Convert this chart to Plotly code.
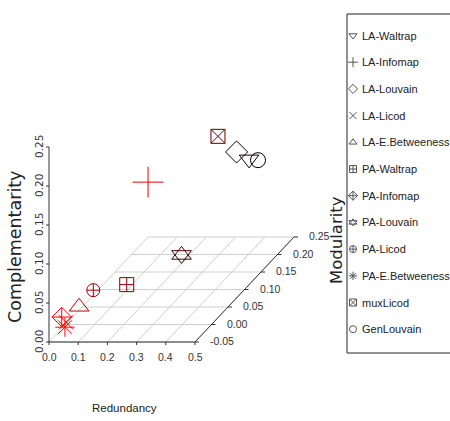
import plotly.graph_objects as go

# ---------------- data ----------------
methods = ["LA-Waltrap", "LA-Infomap", "LA-Louvain", "LA-Licod", "LA-E.Betweeness",
           "PA-Waltrap", "PA-Infomap", "PA-Louvain", "PA-Licod", "PA-E.Betweeness",
           "muxLicod", "GenLouvain"]
redundancy = [0.380, 0.294, 0.326, 0.030, 0.007, 0.091, 0.021, 0.203, 0.007, 0.032, 0.373, 0.388]
modularity = [0.220, -0.010, 0.230, -0.025, 0.035, 0.105, -0.030, 0.172, 0.078, -0.030, 0.132, 0.240]
complementarity = [0.113, 0.187, 0.118, 0.014, 0.007, 0.004, 0.023, 0.012, 0.009, 0.010, 0.182, 0.103]

x_ticks = [0.0, 0.1, 0.2, 0.3, 0.4, 0.5]
x_tick_labels = ["0.0", "0.1", "0.2", "0.3", "0.4", "0.5"]
y_ticks = [-0.05, 0.0, 0.05, 0.10, 0.15, 0.20, 0.25]
y_tick_labels = ["-0.05", "0.00", "0.05", "0.10", "0.15", "0.20", "0.25"]
z_ticks = [0.0, 0.05, 0.10, 0.15, 0.20, 0.25]
z_tick_labels = ["0.00", "0.05", "0.10", "0.15", "0.20", "0.25"]

# ---------------- styles ----------------
symbols = {
    "LA-Waltrap": ["triangle-down-open"],
    "LA-Infomap": ["cross-thin-open"],
    "LA-Louvain": ["diamond-open"],
    "LA-Licod": ["x-thin-open"],
    "LA-E.Betweeness": ["triangle-up-open"],
    "PA-Waltrap": ["square-cross-open"],
    "PA-Infomap": ["diamond-cross-open"],
    "PA-Louvain": ["triangle-up-open", "triangle-down-open"],
    "PA-Licod": ["circle-cross-open"],
    "PA-E.Betweeness": ["asterisk-open"],
    "muxLicod": ["square-x-open"],
    "GenLouvain": ["circle-open"],
}
sizes = {
    "triangle-down-open": 17, "triangle-up-open": 17, "cross-thin-open": 22,
    "diamond-open": 17, "x-thin-open": 14, "square-cross-open": 14,
    "diamond-cross-open": 15, "circle-cross-open": 13, "asterisk-open": 16,
    "square-x-open": 14, "circle-open": 15,
}

NARROW = "Liberation Sans, Arial, sans-serif"
WIDE = "DejaVu Sans, Verdana, sans-serif"

# oblique projection (scatterplot3d style) into page pixels
X_MIN, Y_MIN, Z_MIN = 0.0, -0.05, 0.0
ORIGIN = (49.0, 342.0)
X_SCALE = 292.0
Y_SCALE = (330.0, -350.0)
Z_SCALE = -780.0


def proj(x, y, z):
    px = ORIGIN[0] + (x - X_MIN) * X_SCALE + (y - Y_MIN) * Y_SCALE[0]
    py = ORIGIN[1] + (z - Z_MIN) * Z_SCALE + (y - Y_MIN) * Y_SCALE[1]
    return px, py


fig = go.Figure()

# floor grid
gx, gy = [], []
for yt in y_ticks:
    a = proj(x_ticks[0], yt, Z_MIN)
    b = proj(x_ticks[-1], yt, Z_MIN)
    gx += [a[0], b[0], None]
    gy += [a[1], b[1], None]
for xt in x_ticks:
    a = proj(xt, y_ticks[0], Z_MIN)
    b = proj(xt, y_ticks[-1], Z_MIN)
    gx += [a[0], b[0], None]
    gy += [a[1], b[1], None]
fig.add_trace(go.Scatter(x=gx, y=gy, mode="lines", line=dict(color="#cfcfcf", width=1),
                         hoverinfo="skip", showlegend=False))

# axes lines + ticks
ax, ay = [], []
o = proj(x_ticks[0], y_ticks[0], z_ticks[0])
e = proj(x_ticks[-1], y_ticks[0], z_ticks[0])
f = proj(x_ticks[-1], y_ticks[-1], z_ticks[0])
t = proj(x_ticks[0], y_ticks[0], z_ticks[-1])
ax += [o[0], e[0], f[0], None, o[0], t[0], None]
ay += [o[1], e[1], f[1], None, o[1], t[1], None]
for zt in z_ticks:
    p = proj(x_ticks[0], y_ticks[0], zt)
    ax += [p[0] - 3, p[0], None]
    ay += [p[1], p[1], None]
for xt in x_ticks:
    p = proj(xt, y_ticks[0], z_ticks[0])
    ax += [p[0], p[0], None]
    ay += [p[1], p[1] + 3, None]
for yt in y_ticks:
    p = proj(x_ticks[-1], yt, z_ticks[0])
    ax += [p[0], p[0] + 4, None]
    ay += [p[1], p[1], None]
fig.add_trace(go.Scatter(x=ax, y=ay, mode="lines", line=dict(color="#333333", width=1),
                         hoverinfo="skip", showlegend=False))

# points, coloured red -> black by modularity (highlight.3d)
ymax, ymin = max(modularity), min(modularity)
for m, xv, yv, zv in zip(methods, redundancy, modularity, complementarity):
    r = (ymax - yv) / (ymax - ymin)
    col = "rgb(%d,0,0)" % round(255 * r)
    px, py = proj(xv, yv, zv)
    for s in symbols[m]:
        fig.add_trace(go.Scatter(
            x=[px], y=[py], mode="markers", name=m, showlegend=False,
            marker=dict(symbol=s, size=sizes[s], color=col,
                        line=dict(color=col, width=1))))

# manual legend
LEG_X, LEG_Y0, LEG_DY = 353, 35.5, 26.7
fig.add_shape(type="rect", x0=347, x1=460, y0=14, y1=353,
              line=dict(color="#222222", width=1), fillcolor="white", layer="below")
for i, m in enumerate(methods):
    ly = LEG_Y0 + i * LEG_DY
    for s in symbols[m]:
        fig.add_trace(go.Scatter(
            x=[LEG_X], y=[ly], mode="markers", showlegend=False, hoverinfo="skip",
            marker=dict(symbol=s, size=7, color="#555555",
                        line=dict(color="#555555", width=1))))
    fig.add_annotation(x=LEG_X + 7, y=ly, text=m, showarrow=False, xanchor="left",
                       yanchor="middle", font=dict(family=NARROW, size=11, color="#222222"))

# tick labels
for xt, lab in zip(x_ticks, x_tick_labels):
    p = proj(xt, y_ticks[0], z_ticks[0])
    fig.add_annotation(x=p[0], y=p[1] + 15, text=lab, showarrow=False,
                       font=dict(family=NARROW, size=10.5, color="#333333"))
for yt, lab in zip(y_ticks, y_tick_labels):
    p = proj(x_ticks[-1], yt, z_ticks[0])
    fig.add_annotation(x=p[0] + 13, y=p[1] - 1, text=lab, showarrow=False, xanchor="left",
                       font=dict(family=NARROW, size=10.5, color="#333333"))
for zt, lab in zip(z_ticks, z_tick_labels):
    p = proj(x_ticks[0], y_ticks[0], zt)
    fig.add_annotation(x=p[0] - 10, y=p[1], text=lab, showarrow=False, textangle=-90,
                       font=dict(family=WIDE, size=10.5, color="#333333"))

# axis titles
fig.add_annotation(x=15, y=247, text="Complementarity", showarrow=False, textangle=-90,
                   font=dict(family=WIDE, size=17.5, color="#222222"))
fig.add_annotation(x=336, y=240, text="Modularity", showarrow=False, textangle=-90,
                   font=dict(family=WIDE, size=16.5, color="#222222"))
fig.add_annotation(x=124, y=408, text="Redundancy", showarrow=False,
                   font=dict(family=NARROW, size=11.5, color="#222222"))

fig.update_layout(
    width=450, height=421, margin=dict(l=0, r=0, t=0, b=0),
    paper_bgcolor="white", plot_bgcolor="white", showlegend=False,
    xaxis=dict(range=[0, 450], visible=False, fixedrange=True),
    yaxis=dict(range=[421, 0], visible=False, fixedrange=True),
)

fig.write_html("out.html")
